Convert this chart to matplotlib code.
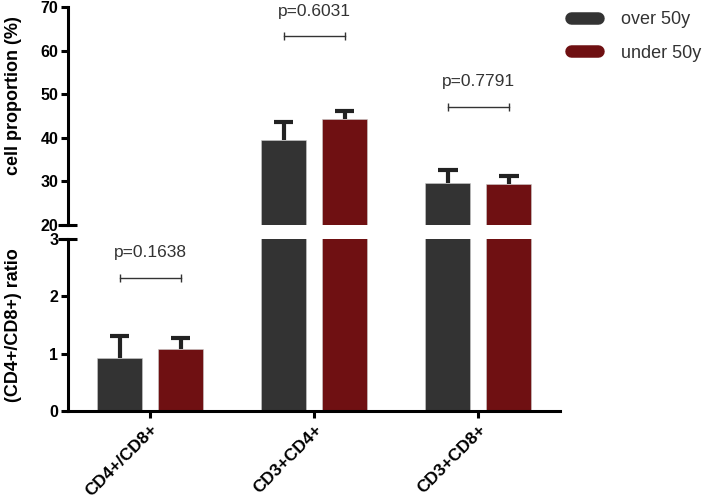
import numpy as np
import matplotlib as mpl
import matplotlib.pyplot as plt
from matplotlib.lines import Line2D

mpl.use("Agg")

plt.rcParams.update({"font.family": ["Liberation Sans", "DejaVu Sans"]})

categories = ["CD4+/CD8+", "CD3+CD4+", "CD3+CD8+"]
groups = ["over 50y", "under 50y"]
over_mean = [0.93, 39.5, 29.6]
over_err = [0.37, 4.1, 3.0]
under_mean = [1.08, 44.3, 29.4]
under_err = [0.20, 1.8, 1.8]
p_labels = ["p=0.1638", "p=0.6031", "p=0.7791"]
bracket_y = [2.32, 63.3, 47.1]

col_over = "#333333"
col_under = "#6f1012"
dark = "#222222"

x = np.arange(len(categories))
width = 0.275
offset = 0.186
cap = 0.06

fig = plt.figure(figsize=(7.02, 5.03), dpi=100)
ax_top = fig.add_axes([0.097, 0.553, 0.701, 0.433])
ax_bot = fig.add_axes([0.097, 0.183, 0.701, 0.342])

for ax in (ax_top, ax_bot):
    for means, errs, col, sgn in (
        (over_mean, over_err, col_over, -1),
        (under_mean, under_err, col_under, 1),
    ):
        xs = x + sgn * offset
        means = np.array(means)
        tops = means + np.array(errs)
        ax.bar(xs, means, width=width, color=col, edgecolor="#cccccc",
               linewidth=0.4, zorder=2)
        # one-sided (upper) error bars
        ax.vlines(xs, means, tops, color=dark, lw=3, zorder=1)
        ax.hlines(tops, xs - cap, xs + cap, color=dark, lw=3, zorder=1)
    ax.set_xlim(-0.5, 2.5)
    ax.spines["top"].set_visible(False)
    ax.spines["right"].set_visible(False)
    ax.spines["left"].set_linewidth(2.2)
    ax.spines["bottom"].set_linewidth(2.2)
    ax.tick_params(axis="y", width=2.2, length=5, labelsize=11.5, pad=2)

ax_top.set_ylim(20, 70)
ax_top.set_yticks(np.arange(20, 71, 10))
ax_top.spines["bottom"].set_visible(False)
ax_top.set_xticks([])
for lab in ax_top.get_yticklabels():
    lab.set_fontweight("bold")

ax_bot.set_ylim(0, 3)
ax_bot.set_yticks(np.arange(0, 4, 1))
ax_bot.set_xticks(x)
ax_bot.set_xticklabels(categories, rotation=45, ha="right",
                       rotation_mode="anchor", fontsize=12.5, fontweight="bold")
ax_bot.tick_params(axis="x", width=2.2, length=5, pad=3)
for lab in ax_bot.get_yticklabels():
    lab.set_fontweight("bold")

# axis break marks
for ax, yy in ((ax_top, 0), (ax_bot, 1)):
    ax.plot([-0.02, 0.018], [yy, yy], transform=ax.transAxes, color="black",
            lw=2.2, clip_on=False, solid_capstyle="butt")

# significance brackets
axes_for = [ax_bot, ax_top, ax_top]
for i, (lab, yb) in enumerate(zip(p_labels, bracket_y)):
    ax = axes_for[i]
    x1, x2 = x[i] - offset, x[i] + offset
    ax.plot([x1, x2], [yb, yb], color="#333333", lw=1, zorder=3)
    ax.plot([x1, x2], [yb, yb], ls="none", marker="|", markersize=6,
            color="#333333", mew=1)
    ax.annotate(lab, xy=(x[i], yb), xytext=(0, 18), textcoords="offset points",
                ha="center", va="center", fontsize=12.5, color="#333333")

fig.text(0.019, 0.81, "cell proportion (%)", rotation=90, ha="center",
         va="center", fontsize=13, fontweight="bold")
fig.text(0.019, 0.354, "(CD4+/CD8+) ratio", rotation=90, ha="center",
         va="center", fontsize=13, fontweight="bold")

handles = [
    Line2D([], [], color=col_over, lw=9, solid_capstyle="round"),
    Line2D([], [], color=col_under, lw=9, solid_capstyle="round"),
]
fig.legend(handles, groups, loc="upper left", bbox_to_anchor=(0.813, 0.978),
           frameon=False, fontsize=13, handlelength=1.5, handletextpad=1.3,
           labelspacing=0.92, borderpad=0, borderaxespad=0,
           labelcolor="#333333")

plt.savefig("out.png", dpi=100)
